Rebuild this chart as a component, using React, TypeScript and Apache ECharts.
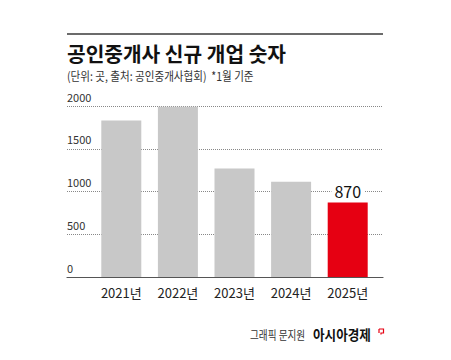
import React, { useEffect, useRef } from "react";
import * as echarts from "echarts";

const categories = ["2021년", "2022년", "2023년", "2024년", "2025년"];
const values = [1830, 1990, 1270, 1115, 870];
const yTicks = { min: 0, max: 2000, interval: 500 };
const title = "공인중개사 신규 개업 숫자";
const subtitle = "(단위: 곳, 출처: 공인중개사협회)  *1월 기준";
const credit = "그래픽 문지원";
const brand = "아시아경제";

const FONT = "'Noto Sans CJK KR', 'Noto Sans', sans-serif";

export default function App() {
  const ref = useRef<HTMLDivElement>(null);
  useEffect(() => {
    if (!ref.current) return;
    const chart = echarts.init(ref.current, undefined, { renderer: "svg" });
    const last = values.length - 1;
    chart.setOption({
      animation: false,
      backgroundColor: "#ffffff",
      textStyle: { fontFamily: FONT },
      grid: [
        { left: 67, right: 68, top: 106, bottom: 83 },
        { left: 93, right: 75, top: 106, bottom: 83 },
      ],
      xAxis: [
        {
          gridIndex: 0,
          type: "value",
          min: 0,
          max: 1,
          axisLine: { show: true, onZero: false, lineStyle: { color: "#555555", width: 1.2 } },
          axisTick: { show: false },
          axisLabel: { show: false },
          splitLine: { show: false },
        },
        {
          gridIndex: 1,
          type: "category",
          data: categories,
          axisLine: { show: false },
          axisTick: { show: false },
          axisLabel: { margin: 9, fontSize: 13, color: "#222222", fontFamily: FONT },
        },
      ],
      yAxis: [
        {
          gridIndex: 0,
          type: "value",
          min: yTicks.min,
          max: yTicks.max,
          interval: yTicks.interval,
          axisLine: { show: false },
          axisTick: { show: false },
          axisLabel: {
            inside: true,
            margin: 0,
            align: "left",
            verticalAlign: "bottom",
            padding: [0, 0, 4, 0],
            fontSize: 11,
            color: "#333333",
            fontFamily: FONT,
            formatter: (v: number) => String(v),
          },
          splitLine: { show: true, lineStyle: { color: "#888888", type: [1, 1], width: 1 } },
        },
        {
          gridIndex: 1,
          type: "value",
          min: yTicks.min,
          max: yTicks.max,
          interval: yTicks.interval,
          show: false,
        },
      ],
      series: [
        {
          type: "bar",
          xAxisIndex: 1,
          yAxisIndex: 1,
          barWidth: 40,
          z: 3,
          data: values.map((v, i) => ({
            value: v,
            itemStyle: { color: i === last ? "#e60012" : "#c8c8c8" },
            label:
              i === last
                ? {
                    show: true,
                    position: "top",
                    distance: 4,
                    fontSize: 16,
                    color: "#111111",
                    backgroundColor: "#ffffff",
                    padding: [0, 3],
                    fontFamily: FONT,
                  }
                : { show: false },
          })),
        },
      ],
      graphic: [
        {
          type: "line",
          shape: { x1: 67, y1: 34, x2: 383, y2: 34 },
          style: { stroke: "#3a3a3a", lineWidth: 1.6 },
        },
        {
          type: "text",
          x: 67,
          y: 53,
          scaleX: 0.99,
          style: {
            text: title,
            fontSize: 20.5,
            fontWeight: "bold",
            fill: "#111111",
            fontFamily: FONT,
            verticalAlign: "middle",
          },
        },
        {
          type: "text",
          x: 67,
          y: 76,
          scaleX: 0.88,
          style: {
            text: subtitle,
            fontSize: 12,
            fill: "#333333",
            fontFamily: FONT,
            verticalAlign: "middle",
          },
        },
        {
          type: "text",
          x: 250,
          y: 334,
          scaleX: 0.8,
          style: {
            text: credit,
            fontSize: 12,
            fill: "#333333",
            fontFamily: FONT,
            verticalAlign: "middle",
          },
        },
        {
          type: "text",
          x: 313,
          y: 334,
          scaleX: 0.9,
          style: {
            text: brand,
            fontSize: 14,
            fontWeight: "bold",
            fill: "#111111",
            fontFamily: FONT,
            verticalAlign: "middle",
          },
        },
        {
          type: "polyline",
          shape: { points: [[379, 329], [383.5, 329], [383.5, 333], [381, 333], [381, 334.5]] },
          style: { stroke: "#e60012", lineWidth: 1.2, fill: "none" },
        },
        {
          type: "line",
          shape: { x1: 379, y1: 329, x2: 379, y2: 333 },
          style: { stroke: "#e60012", lineWidth: 1.2 },
        },
      ],
    });
    return () => chart.dispose();
  }, []);
  return <div ref={ref} style={{ width: 451, height: 360, position: "absolute", left: 0, top: 0 }} />;
}
